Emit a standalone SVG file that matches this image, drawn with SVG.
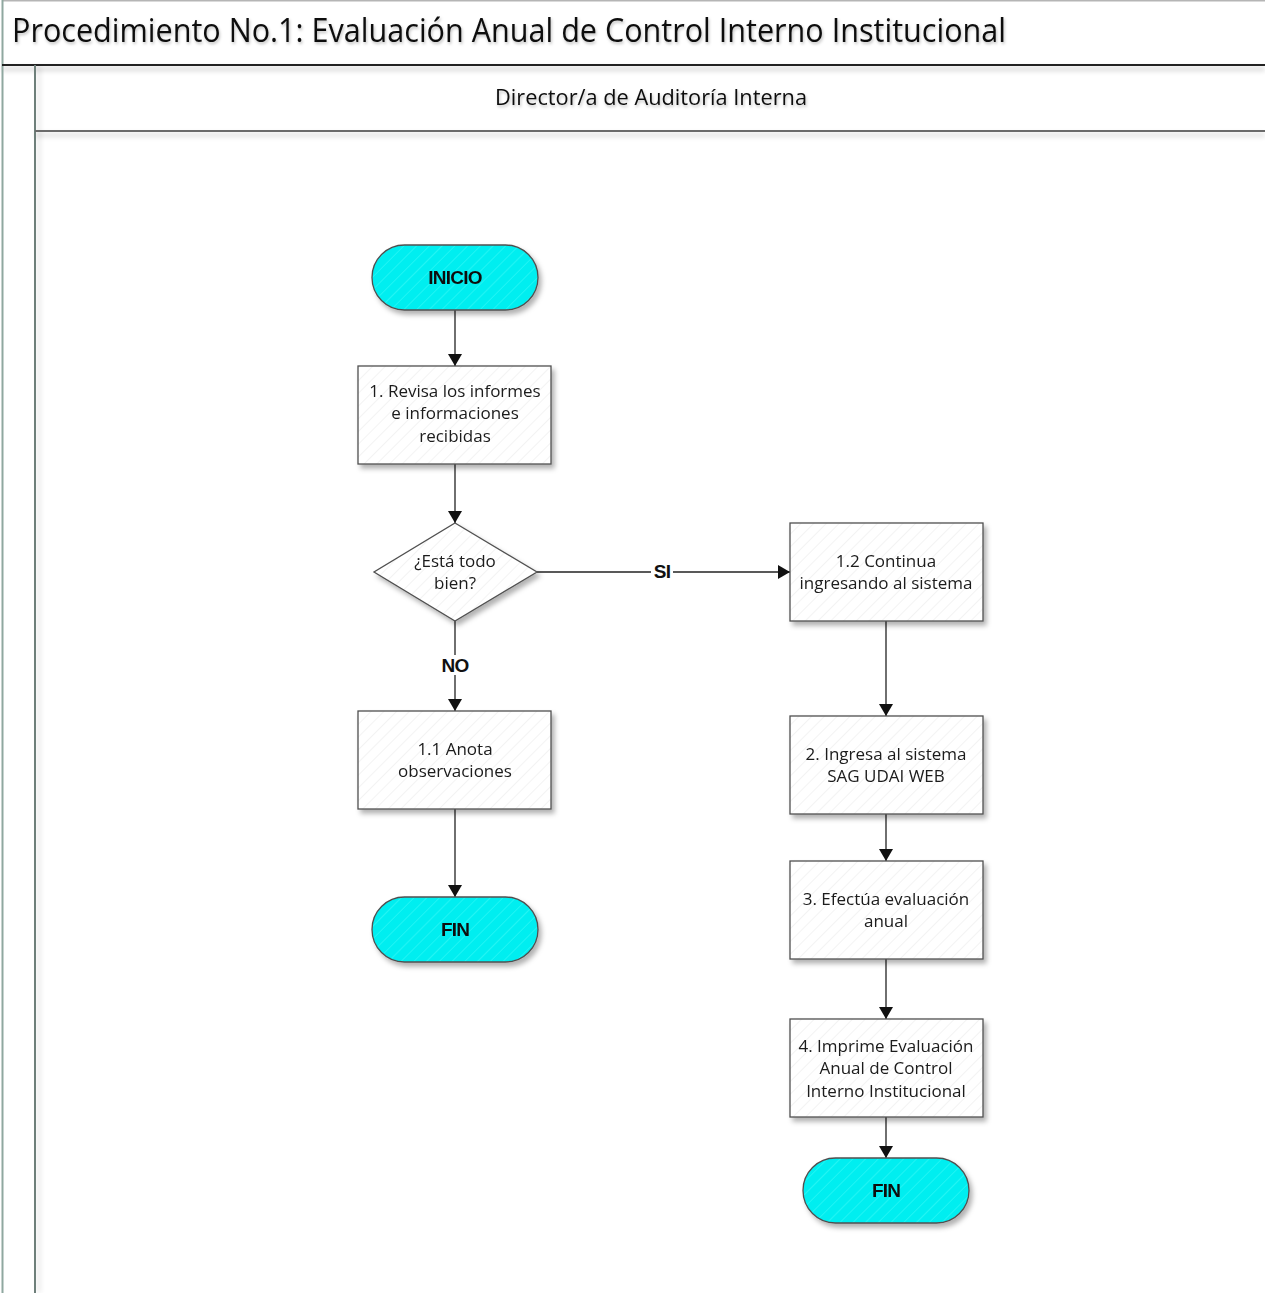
<svg xmlns="http://www.w3.org/2000/svg" width="1265" height="1293" viewBox="0 0 1265 1293">
<style>
.node{stroke:#505050;stroke-width:1.3}
.box{fill:url(#hatch)}
.term{fill:url(#hatchc)}
.t{font-family:"Open Sans","Noto Sans","DejaVu Sans",sans-serif;font-size:17px;fill:#1a1a1a;text-anchor:middle}
.b{font-family:"Liberation Sans",Arial,sans-serif;font-size:19px;font-weight:bold;fill:#111;text-anchor:middle;letter-spacing:-0.8px}
.conn{fill:none;stroke:#222;stroke-width:1.3;marker-end:url(#arr)}
.ttl{font-family:"Open Sans","Noto Sans",sans-serif;fill:#111}
</style>
<defs>
<marker id="arr" viewBox="0 0 12 14" refX="12" refY="7" markerWidth="12" markerHeight="14" markerUnits="userSpaceOnUse" orient="auto">
<path d="M0,0 L12,7 L0,14 Z" fill="#111"/>
</marker>
<pattern id="hatch" width="9" height="9" patternUnits="userSpaceOnUse" patternTransform="rotate(45)">
<rect width="9" height="9" fill="#ffffff"/>
<line x1="0" y1="0" x2="0" y2="9" stroke="#f0f0f0" stroke-width="1.5"/>
</pattern>
<pattern id="hatchc" width="9" height="9" patternUnits="userSpaceOnUse" patternTransform="rotate(45)">
<rect width="9" height="9" fill="#00eef0"/>
<line x1="0" y1="0" x2="0" y2="9" stroke="#2cf6f6" stroke-width="1.5"/>
</pattern>
<filter id="sh" x="-10%" y="-10%" width="130%" height="140%">
<feDropShadow dx="3" dy="4" stdDeviation="2.5" flood-color="#000" flood-opacity="0.3"/>
</filter>
<filter id="tsh" x="-5%" y="-30%" width="110%" height="170%">
<feDropShadow dx="1" dy="2" stdDeviation="1.5" flood-color="#000" flood-opacity="0.25"/>
</filter>
<filter id="blur" filterUnits="userSpaceOnUse" x="0" y="0" width="1265" height="1293">
<feGaussianBlur stdDeviation="2.5"/>
</filter>
</defs>
<rect width="1265" height="1293" fill="#ffffff"/>
<g id="pool">
<rect x="2" y="67" width="1263" height="4" fill="#000" opacity="0.15" filter="url(#blur)"/>
<rect x="35" y="133" width="1230" height="4" fill="#000" opacity="0.12" filter="url(#blur)"/>
<rect x="37" y="66" width="4" height="1227" fill="#000" opacity="0.08" filter="url(#blur)"/>
<rect x="2" y="0" width="1263" height="1.5" fill="#b5b5b5"/>
<rect x="1.5" y="0" width="2" height="1293" fill="#8fa8a0"/>
<rect x="2" y="64" width="1263" height="2" fill="#222"/>
<rect x="34" y="65" width="2" height="1228" fill="#6e7f7a"/>
<rect x="35" y="130" width="1230" height="2" fill="#6a6a6a"/>
<text class="ttl" x="12" y="42" font-size="32" textLength="994" lengthAdjust="spacingAndGlyphs" filter="url(#tsh)">Procedimiento No.1: Evaluación Anual de Control Interno Institucional</text>
<text class="ttl" x="651" y="105" font-size="21.5" text-anchor="middle" textLength="312" lengthAdjust="spacingAndGlyphs" filter="url(#tsh)">Director/a de Auditoría Interna</text>
</g>
<g id="connectors">
<path class="conn" d="M455,310 V366"/>
<path class="conn" d="M455,464 V523"/>
<path class="conn" d="M537,572 H790"/>
<path class="conn" d="M455,621 V711"/>
<path class="conn" d="M455,809 V897"/>
<path class="conn" d="M886,621 V716"/>
<path class="conn" d="M886,814 V861"/>
<path class="conn" d="M886,959 V1019"/>
<path class="conn" d="M886,1117 V1158"/>
<rect x="651" y="562" width="22" height="20" fill="#fff"/>
<text class="b" x="662" y="578">SI</text>
<rect x="437" y="655" width="36" height="20" fill="#fff"/>
<text class="b" x="455" y="672">NO</text>
</g>
<g id="inicio" filter="url(#sh)">
<rect class="node term" x="372" y="245" width="166" height="65" rx="32.5"/>
<text class="b" x="455" y="284">INICIO</text>
</g>
<g id="n1" filter="url(#sh)">
<rect class="node box" x="358" y="366" width="193" height="98"/>
<text class="t" x="455" y="397">1. Revisa los informes</text>
<text class="t" x="455" y="419">e informaciones</text>
<text class="t" x="455" y="442">recibidas</text>
</g>
<g id="decision" filter="url(#sh)">
<path class="node box" d="M455,523 L537,572 L455,621 L374,572 Z"/>
<text class="t" x="455" y="567">¿Está todo</text>
<text class="t" x="455" y="589">bien?</text>
</g>
<g id="n11" filter="url(#sh)">
<rect class="node box" x="358" y="711" width="193" height="98"/>
<text class="t" x="455" y="755">1.1 Anota</text>
<text class="t" x="455" y="777">observaciones</text>
</g>
<g id="fin1" filter="url(#sh)">
<rect class="node term" x="372" y="897" width="166" height="65" rx="32.5"/>
<text class="b" x="455" y="936">FIN</text>
</g>
<g id="n12" filter="url(#sh)">
<rect class="node box" x="790" y="523" width="193" height="98"/>
<text class="t" x="886" y="567">1.2 Continua</text>
<text class="t" x="886" y="589">ingresando al sistema</text>
</g>
<g id="n2" filter="url(#sh)">
<rect class="node box" x="790" y="716" width="193" height="98"/>
<text class="t" x="886" y="760">2. Ingresa al sistema</text>
<text class="t" x="886" y="782">SAG UDAI WEB</text>
</g>
<g id="n3" filter="url(#sh)">
<rect class="node box" x="790" y="861" width="193" height="98"/>
<text class="t" x="886" y="905">3. Efectúa evaluación</text>
<text class="t" x="886" y="927">anual</text>
</g>
<g id="n4" filter="url(#sh)">
<rect class="node box" x="790" y="1019" width="193" height="98"/>
<text class="t" x="886" y="1052">4. Imprime Evaluación</text>
<text class="t" x="886" y="1074">Anual de Control</text>
<text class="t" x="886" y="1097">Interno Institucional</text>
</g>
<g id="fin2" filter="url(#sh)">
<rect class="node term" x="803" y="1158" width="166" height="65" rx="32.5"/>
<text class="b" x="886" y="1197">FIN</text>
</g>
</svg>
